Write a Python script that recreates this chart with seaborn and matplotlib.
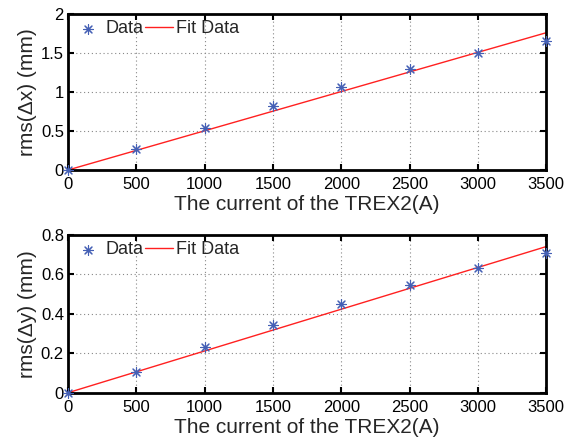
import numpy as np
import pandas as pd
import matplotlib
matplotlib.use("Agg")
import matplotlib.pyplot as plt
import seaborn as sns

current = [0, 500, 1000, 1500, 2000, 2500, 3000, 3500]
rms_dx = [0.0, 0.27, 0.54, 0.82, 1.07, 1.30, 1.50, 1.66]
rms_dy = [0.0, 0.107, 0.23, 0.344, 0.45, 0.547, 0.63, 0.707]
fit_x = [0, 3500]
fit_dx = [0.0, 1.76]
fit_dy = [0.0, 0.741]

x_ticks = [0, 500, 1000, 1500, 2000, 2500, 3000, 3500]
dx_ticks = [0, 0.5, 1, 1.5, 2]
dx_labels = ["0", "0.5", "1", "1.5", "2"]
dy_ticks = [0, 0.2, 0.4, 0.6, 0.8]
dy_labels = ["0", "0.2", "0.4", "0.6", "0.8"]

sns.set_style("ticks")
plt.rcParams['font.family'] = ['Liberation Sans', 'DejaVu Sans']

fig = plt.figure(figsize=(5.72, 4.37), dpi=100)
ax1 = fig.add_axes([0.119, 0.611, 0.836, 0.357])
ax2 = fig.add_axes([0.119, 0.1014, 0.836, 0.361])

blue = '#4560b5'
red = '#ff2020'

def draw(ax, y, fy, ylim, yt, ytl, ylabel):
    df = pd.DataFrame({'x': current, 'y': y})
    fdf = pd.DataFrame({'x': fit_x, 'y': fy})
    sns.scatterplot(data=df, x='x', y='y', ax=ax, marker=(8, 2, 0), s=50,
                    color=blue, edgecolor=blue, linewidth=0.8, label='Data', zorder=3, clip_on=False)
    sns.lineplot(data=fdf, x='x', y='y', ax=ax, color=red, linewidth=1.0, label='Fit Data', zorder=2)
    ax.set_xlim(0, 3500)
    ax.set_ylim(*ylim)
    ax.set_xticks(x_ticks)
    ax.set_xticklabels([str(t) for t in x_ticks])
    ax.set_yticks(yt)
    ax.set_yticklabels(ytl)
    ax.grid(True, linestyle=(0, (1, 2.5)), color='#888888', linewidth=0.8)
    ax.tick_params(direction='in', top=True, right=True, length=4, width=1.5,
                   labelsize=12, colors='black')
    ax.tick_params(axis='x', pad=5)
    ax.tick_params(axis='y', pad=3)
    for sp in ax.spines.values():
        sp.set_linewidth(2.0)
        sp.set_color('black')
    ax.set_xlabel('The current of the TREX2(A)', fontsize=15, labelpad=2.5)
    ax.set_ylabel(ylabel, fontsize=15, labelpad=3)
    ax.legend(loc='upper left', ncol=2, frameon=False, fontsize=13,
              handlelength=1.55, handletextpad=0.2, columnspacing=0.05,
              borderaxespad=0.1, borderpad=0.25)

draw(ax1, rms_dx, fit_dx, (0, 2), dx_ticks, dx_labels, 'rms(Δx) (mm)')
draw(ax2, rms_dy, fit_dy, (0, 0.8), dy_ticks, dy_labels, 'rms(Δy) (mm)')

fig.savefig('out.png', dpi=100)
